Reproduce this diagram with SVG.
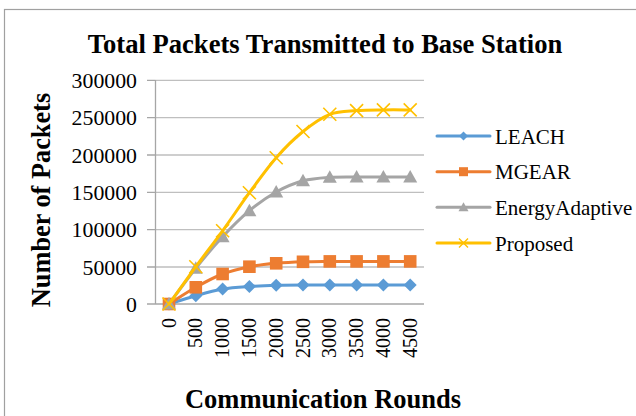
<svg xmlns="http://www.w3.org/2000/svg" width="636" height="416" viewBox="0 0 636 416">
<style>
text{font-family:"Liberation Serif","Times New Roman",serif;fill:#000}
.ttl{font-size:26.6px;font-weight:bold}
.axt{font-weight:bold}
.ytk{font-size:21.8px}
.xtk{font-size:20px}
.leg{font-size:21px}
.grid{stroke:#BFBFBF;stroke-width:1.3;fill:none}
.axis{stroke:#A6A6A6;stroke-width:1.3;fill:none}
.s{fill:none;stroke-width:3;stroke-linejoin:round;stroke-linecap:round}
</style>
<defs>
<path id="dia" d="M0,-6.5 L6.5,0 L0,6.5 L-6.5,0Z" fill="#5B9BD5"/>
<rect id="sq" x="-6.3" y="-6.3" width="12.6" height="12.6" fill="#ED7D31"/>
<path id="tri" d="M0,-7 L7,5.5 L-7,5.5Z" fill="#A5A5A5"/>
<path id="xx" d="M-6.5,-6.5 L6.5,6.5 M-6.5,6.5 L6.5,-6.5" stroke="#FFC000" stroke-width="1.6" fill="none"/>
<path id="ldia" d="M0,-4.5 L4.5,0 L0,4.5 L-4.5,0Z" fill="#5B9BD5"/>
<rect id="lsq" x="-4.5" y="-4.5" width="9" height="9" fill="#ED7D31"/>
<path id="ltri" d="M0,-5 L5,4 L-5,4Z" fill="#A5A5A5"/>
<path id="lxx" d="M-4.5,-4.5 L4.5,4.5 M-4.5,4.5 L4.5,-4.5" stroke="#FFC000" stroke-width="1.4" fill="none"/>
</defs>
<rect x="4.5" y="9.5" width="700" height="500" fill="#FFFFFF" stroke="#A0A0A0" stroke-width="1.2"/>
<g id="title"><text class="ttl" x="325" y="53" text-anchor="middle">Total Packets Transmitted to Base Station</text></g>
<g id="gridlines">
<path class="grid" d="M155.5,80.3H424 M155.5,117.7H424 M155.5,155H424 M155.5,192.3H424 M155.5,229.7H424 M155.5,267H424"/>
</g>
<g id="axes">
<path class="axis" d="M155.5,80V304 M147,304H424 M147,80.3H155.5 M147,117.7H155.5 M147,155H155.5 M147,192.3H155.5 M147,229.7H155.5 M147,267H155.5"/>
</g>
<g id="y-ticks" class="ytk" text-anchor="end">
<text x="137" y="87.8">300000</text>
<text x="137" y="125.2">250000</text>
<text x="137" y="162.5">200000</text>
<text x="137" y="199.8">150000</text>
<text x="137" y="237.2">100000</text>
<text x="137" y="274.5">50000</text>
<text x="137" y="311.5">0</text>
</g>
<g id="x-ticks" class="xtk" text-anchor="end">
<text transform="translate(175.5,318) rotate(-90)">0</text>
<text transform="translate(202.3,318) rotate(-90)">500</text>
<text transform="translate(229.1,318) rotate(-90)">1000</text>
<text transform="translate(255.9,318) rotate(-90)">1500</text>
<text transform="translate(282.7,318) rotate(-90)">2000</text>
<text transform="translate(309.5,318) rotate(-90)">2500</text>
<text transform="translate(336.3,318) rotate(-90)">3000</text>
<text transform="translate(363.1,318) rotate(-90)">3500</text>
<text transform="translate(389.9,318) rotate(-90)">4000</text>
<text transform="translate(416.7,318) rotate(-90)">4500</text>
</g>
<g id="y-axis-title"><text class="axt" font-size="26.3" transform="translate(50,200) rotate(-90)" text-anchor="middle">Number of Packets</text></g>
<g id="x-axis-title"><text class="axt" font-size="26.5" x="323" y="408" text-anchor="middle">Communication Rounds</text></g>
<g id="connectors">
<g id="series-leach">
<path class="s" stroke="#5B9BD5" d="M169,304 C173.5,302.6 186.9,298.3 195.8,295.8 C204.7,293.3 213.7,290.7 222.6,289.1 C231.5,287.55 240.5,287.1 249.4,286.5 C258.3,285.9 267.3,285.55 276.2,285.3 C285.1,285.05 294.1,285 303,285 L410.2,285"/>
<use href="#dia" x="169" y="304"/><use href="#dia" x="195.8" y="295.8"/><use href="#dia" x="222.6" y="289.1"/><use href="#dia" x="249.4" y="286.5"/><use href="#dia" x="276.2" y="285.3"/><use href="#dia" x="303" y="285"/><use href="#dia" x="329.8" y="285"/><use href="#dia" x="356.6" y="285"/><use href="#dia" x="383.4" y="285"/><use href="#dia" x="410.2" y="285"/>
</g>
<g id="series-mgear">
<path class="s" stroke="#ED7D31" d="M169,304 C173.5,301.2 186.9,292.3 195.8,287.3 C204.7,282.3 213.7,277.4 222.6,274 C231.5,270.6 240.5,268.5 249.4,266.7 C258.3,264.9 267.3,264.1 276.2,263.3 C285.1,262.5 294.1,262.1 303,261.8 C311.9,261.5 320.9,261.5 329.8,261.4 L410.2,261.4"/>
<use href="#sq" x="169" y="304"/><use href="#sq" x="195.8" y="287.3"/><use href="#sq" x="222.6" y="274"/><use href="#sq" x="249.4" y="266.7"/><use href="#sq" x="276.2" y="263.3"/><use href="#sq" x="303" y="261.8"/><use href="#sq" x="329.8" y="261.4"/><use href="#sq" x="356.6" y="261.4"/><use href="#sq" x="383.4" y="261.4"/><use href="#sq" x="410.2" y="261.4"/>
</g>
<g id="series-energyadaptive">
<path class="s" stroke="#A5A5A5" d="M169,304 C173.5,298 186.9,279.4 195.8,268.2 C204.7,257 213.7,246.4 222.6,236.8 C231.5,227.2 240.5,218.2 249.4,210.7 C258.3,203.2 267.3,197 276.2,192 C285.1,187 294.1,183.3 303,180.8 C311.9,178.35 320.9,177.9 329.8,177.3 C338.7,176.8 347.7,177 356.6,177 L410.2,177"/>
<use href="#tri" x="169" y="304"/><use href="#tri" x="195.8" y="268.2"/><use href="#tri" x="222.6" y="236.8"/><use href="#tri" x="249.4" y="210.7"/><use href="#tri" x="276.2" y="192"/><use href="#tri" x="303" y="180.8"/><use href="#tri" x="329.8" y="177.3"/><use href="#tri" x="356.6" y="177"/><use href="#tri" x="383.4" y="177"/><use href="#tri" x="410.2" y="177"/>
</g>
<g id="series-proposed">
<path class="s" stroke="#FFC000" d="M169,304 C173.5,297.8 186.9,278.9 195.8,266.7 C204.7,254.5 213.7,243.1 222.6,230.8 C231.5,218.5 240.5,204.9 249.4,192.7 C258.3,180.5 267.3,167.9 276.2,157.7 C285.1,147.5 294.1,138.7 303,131.5 C311.9,124.3 320.9,117.8 329.8,114.3 C338.7,110.8 347.7,111.3 356.6,110.6 C365.5,109.9 374.5,110 383.4,109.9 C392.3,109.8 405.7,109.9 410.2,109.9"/>
<use href="#xx" x="169" y="304"/><use href="#xx" x="195.8" y="266.7"/><use href="#xx" x="222.6" y="230.8"/><use href="#xx" x="249.4" y="192.7"/><use href="#xx" x="276.2" y="157.7"/><use href="#xx" x="303" y="131.5"/><use href="#xx" x="329.8" y="114.3"/><use href="#xx" x="356.6" y="110.6"/><use href="#xx" x="383.4" y="109.9"/><use href="#xx" x="410.2" y="109.9"/>
</g>
</g>
<g id="legend">
<g id="legend-leach"><path class="s" stroke="#5B9BD5" d="M437,136H490"/><use href="#ldia" x="463.5" y="136"/><text class="leg" x="495" y="143.5">LEACH</text></g>
<g id="legend-mgear"><path class="s" stroke="#ED7D31" d="M437,171.7H490"/><use href="#lsq" x="463.5" y="171.7"/><text class="leg" x="495" y="179.2">MGEAR</text></g>
<g id="legend-energyadaptive"><path class="s" stroke="#A5A5A5" d="M437,207.3H490"/><use href="#ltri" x="463.5" y="207.3"/><text class="leg" x="495" y="214.8">EnergyAdaptive</text></g>
<g id="legend-proposed"><path class="s" stroke="#FFC000" d="M437,243H490"/><use href="#lxx" x="463.5" y="243"/><text class="leg" x="495" y="250.5">Proposed</text></g>
</g>
</svg>
